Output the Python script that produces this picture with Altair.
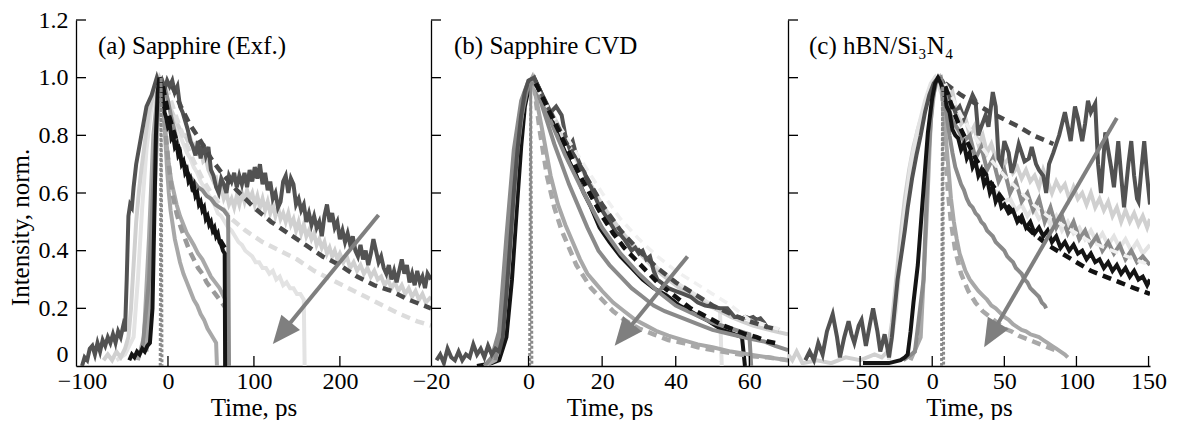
import math
import altair as alt
import pandas as pd

FONT = "Liberation Serif"
FS = 25
FS_LAB = 24
H = 346

# ---------------- axes ----------------
A_DOMAIN = [-107, 306]
B_DOMAIN = [-26.5, 70.5]
C_DOMAIN = [-100, 151]
Y_DOMAIN = [0, 1.2]
A_W, B_W, C_W = 355, 357, 362

a_xlabels = [-100, 0, 100, 200]
a_xticks = [0, 100, 200]
b_xlabels = [-26.5, 0, 20, 40, 60]
b_xticks = [0, 20, 40, 60]
c_xlabels = [-50, 0, 50, 100, 150]
c_xticks = [-50, 0, 50, 100, 150]
y_labels = [0, 0.2, 0.4, 0.6, 0.8, 1.0, 1.2]
y_ticks = [0.2, 0.4, 0.6, 0.8, 1.0, 1.2]

titles = ["(a) Sapphire (Exf.)", "(b) Sapphire CVD", "(c) hBN/Si\u2083N\u2084"]

# ---------------- panel (a) ----------------
a_dark = [(-100,0.0),(-97,0.03),(-94,0.02),(-91,0.06),(-88,0.07),(-85,0.04),(-82,0.08),(-79,0.05),(-76,0.09),(-73,0.07),
          (-70,0.1),(-67,0.08),(-64,0.11),(-61,0.08),(-58,0.12),(-55,0.1),(-52,0.14),(-50,0.12),(-48,0.3),(-46,0.52),
          (-44,0.56),(-42,0.55),(-40,0.62),(-37,0.7),(-34,0.75),(-31,0.8),(-28,0.85),(-25,0.9),(-22,0.92),(-19,0.94),
          (-16,0.97),(-13,1.0),(-10,0.97),(-7,0.99),(-4,0.96),(-1,0.99),(2,0.97),(5,0.99),(8,0.95),(11,0.97),(14,0.9),
          (17,0.88),(20,0.85),(23,0.82),(26,0.78),(29,0.76),(32,0.73),(35,0.78),(38,0.72),(41,0.77),(44,0.73),(47,0.76),
          (50,0.68),(53,0.66),(56,0.62),(59,0.6),(62,0.65),(65,0.63),(68,0.6),(71,0.66),(74,0.64),(77,0.67),(80,0.62),
          (83,0.66),(86,0.63),(89,0.67),(92,0.62),(95,0.68),(98,0.64),(101,0.69),(104,0.65),(107,0.7),(110,0.63),
          (113,0.67),(116,0.61),(119,0.64),(122,0.58),(125,0.6),(128,0.55),(131,0.57),(134,0.64),(137,0.66),(140,0.6),
          (143,0.65),(146,0.63),(149,0.56),(152,0.58),(155,0.54),(158,0.56),(161,0.5),(164,0.53),(167,0.49),(170,0.52),
          (173,0.48),(176,0.5),(179,0.45),(182,0.52),(185,0.56),(188,0.5),(191,0.53),(194,0.48),(197,0.5),(200,0.44),
          (203,0.47),(206,0.43),(209,0.46),(212,0.42),(215,0.45),(218,0.4),(221,0.38),(224,0.42),(227,0.37),(230,0.4),
          (233,0.35),(236,0.39),(239,0.44),(242,0.4),(245,0.36),(248,0.38),(251,0.34),(254,0.32),(257,0.35),(260,0.3),
          (263,0.33),(266,0.29),(269,0.33),(272,0.37),(275,0.32),(278,0.35),(281,0.29),(284,0.32),(287,0.28),(290,0.33),
          (293,0.29),(296,0.31),(299,0.27),(302,0.32),(306,0.3)]
a_dark_fit = [(5,0.97),(15,0.9),(25,0.84),(36,0.79),(50,0.72),(65,0.66),(80,0.61),(100,0.55),(120,0.5),(140,0.46),
              (160,0.42),(180,0.38),(200,0.35),(220,0.31),(240,0.28),(260,0.26),(280,0.23),(306,0.2)]
a_light = [(-75,0.02),(-70,0.04),(-65,0.02),(-60,0.05),(-55,0.03),(-50,0.06),(-46,0.1),(-43,0.2),(-40,0.35),(-37,0.5),
           (-34,0.6),(-31,0.68),(-28,0.75),(-25,0.82),(-22,0.88),(-19,0.92),(-16,0.95),(-13,0.98),(-10,1.0),(-7,0.98),
           (-4,0.95),(-1,0.93),(2,0.9),(5,0.88),(8,0.86),(11,0.84),(14,0.82),(17,0.8),(20,0.8),(23,0.78),(26,0.79),
           (29,0.76),(32,0.77),(35,0.74),(38,0.75),(41,0.71),(44,0.72),(47,0.68),(50,0.66),(53,0.64),(56,0.65),(59,0.6),
           (62,0.62),(65,0.58),(68,0.6),(71,0.56),(74,0.58),(77,0.55),(80,0.59),(83,0.56),(86,0.6),(89,0.57),(92,0.61),
           (95,0.58),(98,0.6),(101,0.56),(104,0.59),(107,0.55),(110,0.58),(113,0.54),(116,0.57),(119,0.53),(122,0.56),
           (125,0.52),(128,0.55),(131,0.51),(134,0.53),(137,0.5),(140,0.53),(143,0.49),(146,0.51),(149,0.47),(152,0.5),
           (155,0.46),(158,0.49),(161,0.45),(164,0.47),(167,0.44),(170,0.46),(173,0.42),(176,0.44),(179,0.41),(182,0.43),
           (185,0.39),(188,0.41),(191,0.38),(194,0.4),(197,0.37),(200,0.39),(204,0.36),(208,0.38),(212,0.34),(216,0.36),
           (220,0.33),(224,0.35),(228,0.32),(232,0.34),(236,0.31),(240,0.33),(244,0.3),(248,0.31),(252,0.28),(256,0.3),
           (260,0.27),(264,0.29),(268,0.26),(272,0.28),(276,0.25),(280,0.27),(284,0.24),(288,0.26),(292,0.23),(296,0.25),
           (300,0.22),(306,0.24)]
a_vlight = [(-60,0.02),(-50,0.04),(-40,0.1),(-35,0.3),(-30,0.55),(-25,0.75),(-20,0.88),(-15,0.95),(-10,1.0),(-6,0.97),
            (-2,0.93),(2,0.9),(6,0.86),(10,0.83),(14,0.8),(18,0.77),(22,0.74),(26,0.72),(30,0.69),(34,0.67),(38,0.64),
            (42,0.62),(46,0.6),(50,0.58),(54,0.56),(58,0.53),(62,0.52),(66,0.5),(70,0.48),(74,0.47),(78,0.45),(82,0.43),
            (86,0.42),(90,0.4),(94,0.39),(98,0.38),(102,0.36),(106,0.36),(110,0.34),(114,0.34),(118,0.32),(122,0.33),
            (126,0.3),(130,0.31),(134,0.28),(138,0.29),(142,0.27),(146,0.27),(150,0.25),(154,0.25),(158,0.23),(159,0.0)]
a_light_fit = [(-2,0.97),(10,0.86),(20,0.78),(30,0.71),(40,0.65),(50,0.6),(60,0.56),(74,0.51),(90,0.47),(110,0.43),
               (130,0.4),(150,0.37),(170,0.33),(190,0.3),(210,0.27),(230,0.24),(250,0.21),(270,0.18),(290,0.155),(306,0.14)]
a_black = [(-45,0.02),(-42,0.04),(-39,0.03),(-36,0.05),(-33,0.04),(-30,0.06),(-27,0.05),(-24,0.07),(-21,0.08),(-18,0.2),
           (-16,0.5),(-14,0.8),(-12,0.95),(-10,1.0),(-8,0.98),(-6,0.93),(-4,0.88),(-2,0.86),(0,0.83),(2,0.84),(4,0.79),
           (6,0.8),(8,0.76),(10,0.77),(12,0.73),(14,0.74),(16,0.7),(18,0.71),(20,0.67),(22,0.68),(24,0.64),(26,0.65),
           (28,0.62),(30,0.63),(32,0.59),(34,0.6),(36,0.56),(38,0.57),(40,0.54),(42,0.55),(44,0.51),(46,0.52),(48,0.49),
           (50,0.5),(52,0.47),(54,0.48),(56,0.45),(58,0.46),(60,0.43),(62,0.42),(64,0.4),(66,0.39),(66.5,0.0)]
a_black_fit = [(-6,0.97),(0,0.88),(5,0.83),(10,0.78),(15,0.73),(20,0.69),(25,0.65),(30,0.61),(35,0.58),(40,0.55),
               (45,0.52),(50,0.49),(55,0.46),(60,0.44),(66,0.41)]
a_mid = [(-30,0.05),(-22,0.3),(-16,0.7),(-12,0.9),(-8,1.0),(-4,0.97),(0,0.92),(4,0.86),(8,0.81),(12,0.76),(16,0.72),
         (20,0.69),(25,0.66),(30,0.64),(35,0.62),(40,0.61),(45,0.59),(50,0.58),(55,0.56),(60,0.55),(65,0.54),(70,0.52),(71,0.0)]
a_mid2 = [(-25,0.05),(-18,0.4),(-12,0.85),(-8,1.0),(-5,0.9),(-2,0.78),(1,0.7),(4,0.64),(7,0.6),(10,0.56),(14,0.52),
          (18,0.49),(22,0.46),(26,0.44),(30,0.42),(35,0.39),(40,0.37),(45,0.34),(50,0.31),(55,0.29),(60,0.27),(65,0.24),
          (69,0.22),(70,0.0)]
a_mid2_fit = [(-4,0.85),(0,0.72),(5,0.6),(10,0.53),(15,0.48),(20,0.44),(25,0.4),(30,0.37),(35,0.34),(40,0.32),(45,0.29),
              (50,0.27),(55,0.25),(60,0.23),(65,0.21),(70,0.19)]
a_lmid = [(-35,0.02),(-28,0.1),(-22,0.45),(-17,0.8),(-12,0.95),(-8,1.0),(-5,0.9),(-3,0.78),(-1,0.68),(1,0.6),(3,0.54),
          (5,0.5),(8,0.44),(11,0.4),(14,0.36),(18,0.32),(22,0.29),(26,0.26),(30,0.23),(34,0.21),(38,0.18),(42,0.16),
          (46,0.13),(50,0.11),(54,0.09),(56,0.08),(57,0.0)]
a_irf = [(-9,0.0),(-8,1.0),(-7,0.0)]
a_arrow = [(245, 0.524), (122, 0.076)]

# ---------------- panel (b) ----------------
b_dark = [(-25,0.02),(-24,0.04),(-23,0.01),(-22,0.06),(-21,0.03),(-20,0.02),(-19,0.05),(-18,0.02),(-17,0.04),(-16,0.03),
          (-15,0.075),(-14,0.04),(-13,0.06),(-12,0.03),(-11,0.07),(-10,0.04),(-9,0.06),(-8,0.05),(-7,0.1),(-6,0.25),
          (-5,0.42),(-4,0.6),(-3,0.75),(-2,0.87),(-1,0.95),(0,0.99),(1.5,1.0),(3,0.96),(4.5,0.92),(6,0.88),(7.5,0.9),
          (9,0.87),(10,0.8),(11,0.76),(12,0.78),(13,0.73),(14,0.7),(15,0.68),(16,0.64),(17,0.62),(18,0.59),(19,0.56),
          (20,0.54),(21,0.52),(22,0.5),(23,0.48),(24,0.46),(25,0.455),(26,0.44),(27,0.42),(28,0.4),(29,0.41),(30,0.39),
          (31,0.4),(32,0.37),(33,0.38),(34,0.33),(35,0.3),(36,0.29),(37,0.28),(38,0.27),(40,0.26),(42,0.25),(44,0.24),
          (46,0.22),(48,0.21),(50,0.205),(52,0.2),(54,0.2),(55,0.185),(56,0.17),(57,0.17),(58,0.165),(59,0.17),(60,0.165),
          (61,0.17),(62,0.16),(63,0.165),(64,0.15),(65,0.13)]
b_dark_fit = [(2,0.98),(6,0.88),(10,0.78),(15,0.67),(20,0.56),(25,0.47),(30,0.4),(35,0.34),(40,0.29),(45,0.25),
              (50,0.21),(55,0.18),(60,0.155),(65,0.135),(68,0.125)]
b_black = [(-14,0.0),(-10,0.01),(-8,0.02),(-6,0.1),(-4.5,0.3),(-3,0.58),(-2,0.76),(-1,0.9),(0.5,0.99),(1.5,1.0),
           (3,0.96),(5,0.9),(7,0.83),(9,0.77),(11,0.71),(13,0.66),(15,0.6),(17,0.55),(19.3,0.48),(22,0.43),(25,0.38),
           (28,0.34),(31,0.3),(34,0.27),(37.5,0.245),(41,0.21),(44,0.19),(46,0.175),(49,0.155),(52,0.13),(55,0.115),
           (58,0.1),(58.8,0.0)]
b_black_fit = [(2,0.98),(5,0.9),(8,0.82),(11,0.74),(14,0.66),(17,0.59),(20,0.52),(23,0.46),(26,0.41),(29,0.37),(32,0.33),
               (35,0.29),(38,0.26),(41,0.23),(44,0.2),(47,0.18),(50,0.16),(53,0.14),(56,0.125),(59,0.11),(62,0.1),
               (65,0.085),(67,0.08)]
b_light = [(-10,0.02),(-7,0.1),(-5,0.35),(-3,0.7),(-1,0.93),(1.5,1.0),(4,0.93),(7,0.86),(10,0.79),(13,0.72),(16,0.65),
           (19,0.58),(22,0.52),(25,0.47),(28,0.42),(31,0.38),(34,0.34),(37,0.31),(40,0.28),(43,0.25),(46,0.23),(49,0.21),
           (52,0.19),(55,0.17),(58,0.155),(61,0.14),(64,0.13),(67,0.12),(70.5,0.11)]
b_vlight = [(-9,0.02),(-6,0.2),(-4,0.55),(-2,0.85),(0,0.97),(1.5,1.0),(5,0.9),(10,0.78),(15,0.67),(20,0.56),(25,0.47),
            (30,0.4),(35,0.34),(40,0.29),(45,0.25),(50,0.21),(52,0.2),(52.5,0.0)]
b_light_fit = [(2,0.97),(6,0.88),(10,0.8),(15,0.7),(20,0.6),(25,0.51),(30,0.44),(35,0.38),(40,0.33),(45,0.29),(50,0.25),
               (55,0.21),(60,0.16),(65,0.14),(69,0.125)]
b_mid = [(-12,0.0),(-10,0.03),(-8,0.12),(-6,0.45),(-4,0.75),(-2,0.92),(0,0.99),(1.5,1.0),(3,0.93),(5,0.85),(7,0.77),
         (9,0.7),(11,0.63),(13,0.57),(16,0.48),(19,0.4),(22,0.35),(25,0.31),(28,0.27),(31,0.24),(34,0.21),(37,0.19),
         (41,0.17),(46,0.145),(50,0.125),(55,0.11),(60,0.095),(64,0.085),(67,0.07),(70.5,0.055)]
b_mid2 = [(-9,0.02),(-6,0.3),(-3,0.8),(0,0.98),(2,0.98),(6,0.85),(10,0.73),(15,0.6),(20,0.48),(25,0.39),(30,0.32),
          (35,0.26),(40,0.21),(45,0.18),(50,0.15),(55,0.13),(60,0.11),(60.5,0.0)]
b_lmid = [(-12,0.0),(-9,0.02),(-7,0.12),(-5,0.4),(-3,0.75),(-1,0.95),(1,1.0),(2.5,0.9),(4,0.8),(6,0.66),(8,0.56),
          (10,0.49),(12,0.43),(14,0.37),(16,0.32),(18,0.29),(20,0.26),(23,0.22),(26,0.19),(29,0.16),(32,0.14),(35,0.12),
          (38,0.105),(42,0.09),(46,0.075),(50,0.065),(55,0.05),(60,0.04),(65,0.03),(70.5,0.02)]
b_lmid_fit = [(1.5,0.97),(3,0.82),(5,0.66),(7,0.55),(9,0.47),(11,0.41),(13,0.35),(15,0.31),(17,0.27),(20,0.23),
              (23,0.19),(26,0.16),(30,0.13),(34,0.11),(38,0.09),(42,0.08),(46,0.065),(50,0.055),(55,0.045),(60,0.035),
              (65,0.03),(70.5,0.02)]
b_irf = [(0.3,0.0),(0.6,0.98),(0.9,0.0)]
b_arrow = [(43.2, 0.38), (23.4, 0.07)]

# ---------------- panel (c) ----------------
c_dark = [(-88,0.02),(-85,0.05),(-82,0.02),(-79,0.08),(-76,0.04),(-73,0.12),(-69,0.18),(-66,0.1),(-64,0.03),(-61,0.1),
          (-58,0.155),(-56,0.11),(-54,0.08),(-51,0.14),(-49,0.16),(-47,0.1),(-46,0.07),(-43,0.15),(-41,0.2),(-38,0.12),
          (-36,0.05),(-34,0.09),(-33,0.11),(-31,0.06),(-30,0.03),(-28,0.1),(-26,0.2),(-24,0.3),(-21,0.4),(-19,0.47),
          (-17,0.55),(-14,0.65),(-11,0.73),(-8,0.8),(-5,0.88),(-2,0.94),(1,0.98),(4,1.0),(7,0.99),(10,0.96),(13,0.92),
          (16,0.88),(19,0.9),(22,0.86),(25,0.9),(28,0.94),(30,0.92),(32,0.8),(34,0.83),(37,0.87),(39,0.83),(42,0.95),
          (44,0.9),(46,0.72),(48,0.7),(50,0.78),(53,0.74),(55,0.67),(57,0.7),(60,0.77),(62,0.74),(64,0.71),(67,0.72),
          (69,0.76),(72,0.7),(74,0.68),(77,0.66),(79,0.6),(81,0.7),(84,0.74),(86,0.77),(88,0.8),(90,0.84),(92,0.88),
          (94,0.83),(96,0.78),(99,0.9),(101,0.86),(104,0.78),(106,0.84),(108,0.92),(110,0.88),(113,0.91),(115,0.7),
          (117,0.6),(120,0.81),(122,0.75),(124,0.69),(126,0.62),(129,0.78),(131,0.66),(133,0.55),(134,0.6),(136,0.7),
          (138,0.78),(140,0.66),(142,0.58),(143,0.57),(145,0.68),(147,0.78),(149,0.66),(151,0.56)]
c_dark_fit = [(9,0.98),(20,0.94),(30,0.91),(40,0.88),(50,0.855),(60,0.83),(70,0.8),(84,0.77)]
c_light = [(-100,0.04),(-97,0.02),(-94,0.05),(-90,0.01),(-80,0.02),(-70,0.01),(-60,0.03),(-50,0.02),(-40,0.04),(-35,0.03),
           (-31,0.05),(-28,0.15),(-25,0.3),(-22,0.45),(-19,0.58),(-16,0.68),(-13,0.76),(-10,0.82),(-7,0.87),(-4,0.92),
           (-1,0.97),(2,1.0),(5,0.99),(8,0.95),(11,0.92),(14,0.95),(17,0.88),(20,0.84),(23,0.86),(26,0.8),(29,0.83),
           (32,0.77),(35,0.8),(38,0.74),(41,0.77),(44,0.72),(47,0.74),(50,0.7),(53,0.72),(56,0.67),(59,0.69),(62,0.65),
           (65,0.68),(68,0.64),(71,0.66),(74,0.62),(77,0.68),(80,0.64),(83,0.6),(86,0.64),(89,0.61),(92,0.63),(95,0.58),
           (98,0.62),(101,0.58),(104,0.6),(107,0.56),(110,0.6),(113,0.55),(116,0.58),(119,0.54),(122,0.57),(125,0.52),
           (128,0.55),(131,0.5),(134,0.54),(137,0.5),(140,0.53),(143,0.49),(146,0.52),(149,0.48),(151,0.51)]
c_vlight = [(-30,0.02),(-25,0.2),(-20,0.5),(-15,0.7),(-10,0.82),(-5,0.92),(-1,0.98),(2,1.0),(6,0.95),(10,0.9),(14,0.84),
            (18,0.8),(22,0.76),(26,0.72),(30,0.7),(34,0.66),(38,0.64),(42,0.61),(46,0.6),(50,0.57),(54,0.58),(58,0.54),
            (62,0.56),(66,0.52),(70,0.55),(74,0.51),(78,0.53),(82,0.49),(86,0.52),(90,0.47),(94,0.5),(98,0.46),(102,0.48),
            (106,0.44),(110,0.47),(114,0.43),(118,0.46),(122,0.42),(126,0.45),(130,0.41),(134,0.44),(138,0.4),(142,0.43),
            (146,0.39),(151,0.42)]
c_black = [(-48,0.01),(-40,0.01),(-30,0.01),(-22,0.02),(-19,0.03),(-17,0.04),(-15,0.12),(-13,0.22),(-10,0.35),(-7,0.55),
           (-5,0.68),(-3,0.81),(0,0.93),(2,0.98),(4,1.0),(6,0.98),(8,0.95),(10,0.9),(12,0.88),(14,0.82),(16,0.8),(18,0.79),
           (20,0.75),(22,0.77),(24,0.72),(26,0.74),(28,0.69),(30,0.71),(32,0.66),(34,0.68),(36,0.63),(38,0.65),(40,0.6),
           (42,0.62),(44,0.57),(46,0.59),(48,0.55),(50,0.56),(53,0.53),(56,0.54),(59,0.5),(62,0.52),(65,0.48),(68,0.5),
           (71,0.46),(74,0.48),(77,0.45),(80,0.47),(83,0.43),(86,0.45),(89,0.41),(92,0.43),(95,0.4),(98,0.42),(101,0.39),
           (104,0.4),(107,0.37),(110,0.39),(113,0.36),(116,0.37),(119,0.34),(122,0.36),(125,0.33),(128,0.35),(131,0.32),
           (134,0.34),(137,0.31),(140,0.33),(143,0.3),(146,0.31),(149,0.28),(151,0.3)]
c_black_fit = [(9,0.97),(15,0.88),(20,0.82),(30,0.72),(40,0.64),(50,0.57),(60,0.51),(70,0.46),(80,0.42),(90,0.39),
               (100,0.36),(110,0.33),(120,0.31),(130,0.29),(140,0.27),(151,0.25)]
c_light_fit = [(9,0.98),(20,0.87),(30,0.79),(40,0.72),(50,0.66),(60,0.61),(70,0.56),(80,0.52),(90,0.49),(100,0.46),
               (110,0.43),(120,0.41),(130,0.39),(140,0.37),(151,0.35)]
c_mid2 = [(6,1.0),(10,0.92),(14,0.85),(18,0.82),(22,0.78),(26,0.8),(30,0.72),(34,0.76),(38,0.68),(42,0.72),(46,0.64),
          (50,0.68),(54,0.6),(58,0.64),(62,0.57),(66,0.6),(70,0.54),(74,0.58),(78,0.5),(82,0.55),(86,0.48),(90,0.52),
          (94,0.46),(98,0.5),(102,0.44),(106,0.47),(110,0.42),(114,0.45),(118,0.4),(122,0.43),(126,0.39),(130,0.42),
          (134,0.37),(138,0.4),(142,0.36),(146,0.38),(151,0.35)]
c_mid = [(-20,0.02),(-12,0.05),(-6,0.3),(-3,0.7),(0,0.92),(3,0.99),(6,1.0),(8,0.95),(10,0.87),(12,0.8),(14,0.74),
         (16,0.69),(18,0.66),(20,0.63),(22,0.61),(24,0.58),(26,0.56),(28,0.55),(30,0.53),(32,0.52),(34,0.5),(36,0.49),
         (38,0.47),(40,0.46),(42,0.45),(44,0.43),(46,0.42),(48,0.41),(50,0.4),(52,0.38),(54,0.37),(56,0.36),(58,0.34),
         (60,0.33),(62,0.32),(64,0.3),(66,0.29),(68,0.27),(70,0.26),(72,0.25),(74,0.24),(76,0.22),(78,0.21),(79,0.2)]
c_lmid = [(-15,0.02),(-8,0.1),(-4,0.5),(-1,0.85),(2,0.98),(5,1.0),(7,0.95),(9,0.82),(11,0.7),(13,0.58),(15,0.5),
          (17,0.44),(19,0.39),(21,0.36),(23,0.33),(26,0.3),(29,0.28),(32,0.26),(35,0.245),(38,0.23),(41,0.21),(44,0.2),
          (47,0.185),(50,0.17),(53,0.16),(56,0.145),(59,0.135),(62,0.125),(65,0.12),(68,0.11),(71,0.105),(74,0.1),
          (77,0.09),(80,0.08),(83,0.07),(86,0.06),(89,0.05),(92,0.04),(94,0.03)]
c_lmid_fit = [(7,0.95),(9,0.75),(11,0.6),(13,0.5),(16,0.4),(20,0.32),(25,0.26),(30,0.22),(35,0.19),(40,0.17),(45,0.15),
              (50,0.13),(55,0.12),(60,0.105),(65,0.095),(70,0.085),(75,0.075),(80,0.065),(85,0.055)]
c_irf = [(6.5,0.0),(7.2,0.97),(7.9,0.0)]
c_arrow = [(128, 0.86), (36, 0.065)]

# ---------------- styles ----------------
DASH = [9, 6]
SW = 4
STYLE = {
    "vlight": dict(color="#e3e3e3", strokeWidth=SW),
    "light": dict(color="#d0d0d0", strokeWidth=SW),
    "lmid": dict(color="#a8a8a8", strokeWidth=SW),
    "mid": dict(color="#8a8a8a", strokeWidth=SW),
    "dark": dict(color="#525252", strokeWidth=SW),
    "black": dict(color="#141414", strokeWidth=SW),
    "light_fit": dict(color="#dcdcdc", strokeWidth=4.5, strokeDash=DASH),
    "white_fit": dict(color="#f0f0f0", strokeWidth=3.5, strokeDash=DASH),
    "lmid_fit": dict(color="#a8a8a8", strokeWidth=4.5, strokeDash=DASH),
    "mid_fit": dict(color="#999999", strokeWidth=4.5, strokeDash=DASH),
    "dark_fit": dict(color="#4a4a4a", strokeWidth=4.5, strokeDash=DASH),
    "black_fit": dict(color="#111111", strokeWidth=4.5, strokeDash=DASH),
    "irf": dict(color="#8a8a8a", strokeWidth=3, strokeDash=[3, 2]),
}
ARROW_COLOR = "#7f7f7f"

panels = [
    dict(dom=A_DOMAIN, width=A_W, xlabels=a_xlabels, xticks=a_xticks, title=titles[0], title_x=22, first=True,
         arrow=a_arrow, label_expr=None,
         series=[(a_vlight, "vlight"), (a_light, "light"), (a_light_fit, "light_fit"), (a_lmid, "lmid"),
                 (a_mid2, "lmid"), (a_mid2_fit, "mid_fit"), (a_mid, "mid"), (a_dark, "dark"),
                 (a_dark_fit, "dark_fit"), (a_black, "black"), (a_black_fit, "black_fit"), (a_irf, "irf")]),
    dict(dom=B_DOMAIN, width=B_W, xlabels=b_xlabels, xticks=b_xticks, title=titles[1], title_x=23, first=False,
         arrow=b_arrow, label_expr="datum.value < -20 ? '\u221220' : datum.label",
         series=[(b_vlight, "vlight"), (b_light, "light"), (b_black, "black"), (b_lmid, "lmid"),
                 (b_lmid_fit, "lmid_fit"), (b_mid, "mid"), (b_mid2, "mid"), (b_dark, "dark"),
                 (b_light_fit, "white_fit"), (b_dark_fit, "dark_fit"), (b_black_fit, "black_fit"), (b_irf, "irf")]),
    dict(dom=C_DOMAIN, width=C_W, xlabels=c_xlabels, xticks=c_xticks, title=titles[2], title_x=21, first=False,
         arrow=c_arrow, label_expr=None,
         series=[(c_light, "light"), (c_vlight, "vlight"), (c_lmid, "lmid"), (c_lmid_fit, "lmid_fit"),
                 (c_mid, "mid"), (c_dark, "dark"), (c_dark_fit, "dark_fit"), (c_mid2, "mid"),
                 (c_black, "black"), (c_light_fit, "white_fit"), (c_black_fit, "black_fit"), (c_irf, "irf")]),
]


def build_panel(p):
    xs = alt.Scale(domain=p["dom"], nice=False, zero=False)
    ys = alt.Scale(domain=Y_DOMAIN, nice=False, zero=False)
    xaxis_kw = dict(values=p["xlabels"], ticks=False, grid=False, labelFlush=False, labelPadding=3,
                    labelFont=FONT, labelFontSize=FS_LAB, labelColor="black", domainColor="black",
                    domainWidth=1.3, title="Time, ps", titleFont=FONT, titleFontSize=FS,
                    titleFontWeight="normal", titleColor="black", titleY=49, titleBaseline="alphabetic")
    if p["label_expr"]:
        xaxis_kw["labelExpr"] = p["label_expr"]
    xaxis = alt.Axis(**xaxis_kw)
    if p["first"]:
        yaxis = alt.Axis(values=y_labels, ticks=False, grid=False, labelPadding=8,
                         labelExpr="datum.value == 0 ? '0' : format(datum.value, '.1f')",
                         labelBaseline={"condition": {"test": "datum.value == 0", "value": "bottom"},
                                        "value": "middle"},
                         labelFont=FONT, labelFontSize=FS_LAB, labelColor="black", domainColor="black",
                         domainWidth=1.3, title="Intensity, norm.", titleFont=FONT, titleFontSize=FS,
                         titleFontWeight="normal", titleColor="black", titleX=-48, titleY=207,
                         titleBaseline="alphabetic")
    else:
        yaxis = alt.Axis(labels=False, ticks=False, grid=False, title=None, domainColor="black",
                         domainWidth=1.3)
    X = alt.X("t:Q", scale=xs, axis=xaxis)
    Y = alt.Y("v:Q", scale=ys, axis=yaxis)

    layers = []
    for data, key in p["series"]:
        df = pd.DataFrame(data, columns=["t", "v"])
        layers.append(alt.Chart(df).mark_line(clip=True, **STYLE[key]).encode(x=X, y=Y))

    # inward ticks
    ytk = pd.DataFrame({"v": y_ticks})
    layers.append(alt.Chart(ytk).mark_rule(color="black", strokeWidth=1.3)
                  .encode(y=Y, x=alt.value(0), x2=alt.value(10)))
    xtk = pd.DataFrame({"t": p["xticks"]})
    layers.append(alt.Chart(xtk).mark_rule(color="black", strokeWidth=1.3)
                  .encode(x=X, y=alt.value(H), y2=alt.value(H - 10)))

    # arrow
    (t0, v0), (t1, v1) = p["arrow"]
    kx = p["width"] / (p["dom"][1] - p["dom"][0])
    ky = H / (Y_DOMAIN[1] - Y_DOMAIN[0])
    dx = (t1 - t0) * kx
    dy = -(v1 - v0) * ky
    L = math.hypot(dx, dy)
    ang = math.degrees(math.atan2(dx, -dy)) % 360
    back = 14
    te = t1 - dx / L * back / kx
    ve = v1 + dy / L * back / ky
    shaft = pd.DataFrame({"t": [t0], "v": [v0], "t2": [te], "v2": [ve]})
    layers.append(alt.Chart(shaft).mark_rule(color=ARROW_COLOR, strokeWidth=4)
                  .encode(x=X, y=Y, x2="t2:Q", y2="v2:Q"))
    head = pd.DataFrame({"t": [t1], "v": [v1]})
    layers.append(alt.Chart(head).mark_point(shape="M0,0L0.9,2.1L-0.9,2.1Z", filled=True, opacity=1,
                                             color=ARROW_COLOR, size=720, angle=ang)
                  .encode(x=X, y=Y))

    # panel label
    tdf = pd.DataFrame({"label": [p["title"]]})
    layers.append(alt.Chart(tdf).mark_text(align="left", baseline="alphabetic", font=FONT, fontSize=FS,
                                           color="black")
                  .encode(x=alt.value(p["title_x"]), y=alt.value(34), text="label:N"))

    return alt.layer(*layers).properties(width=p["width"], height=H)


chart = alt.hconcat(*[build_panel(p) for p in panels], spacing=0, bounds="flush").properties(
    padding={"left": 0, "top": 0, "right": 0, "bottom": 0}
).configure_view(stroke=None)

chart.save("out.html", embed_options={"renderer": "svg", "actions": False})
